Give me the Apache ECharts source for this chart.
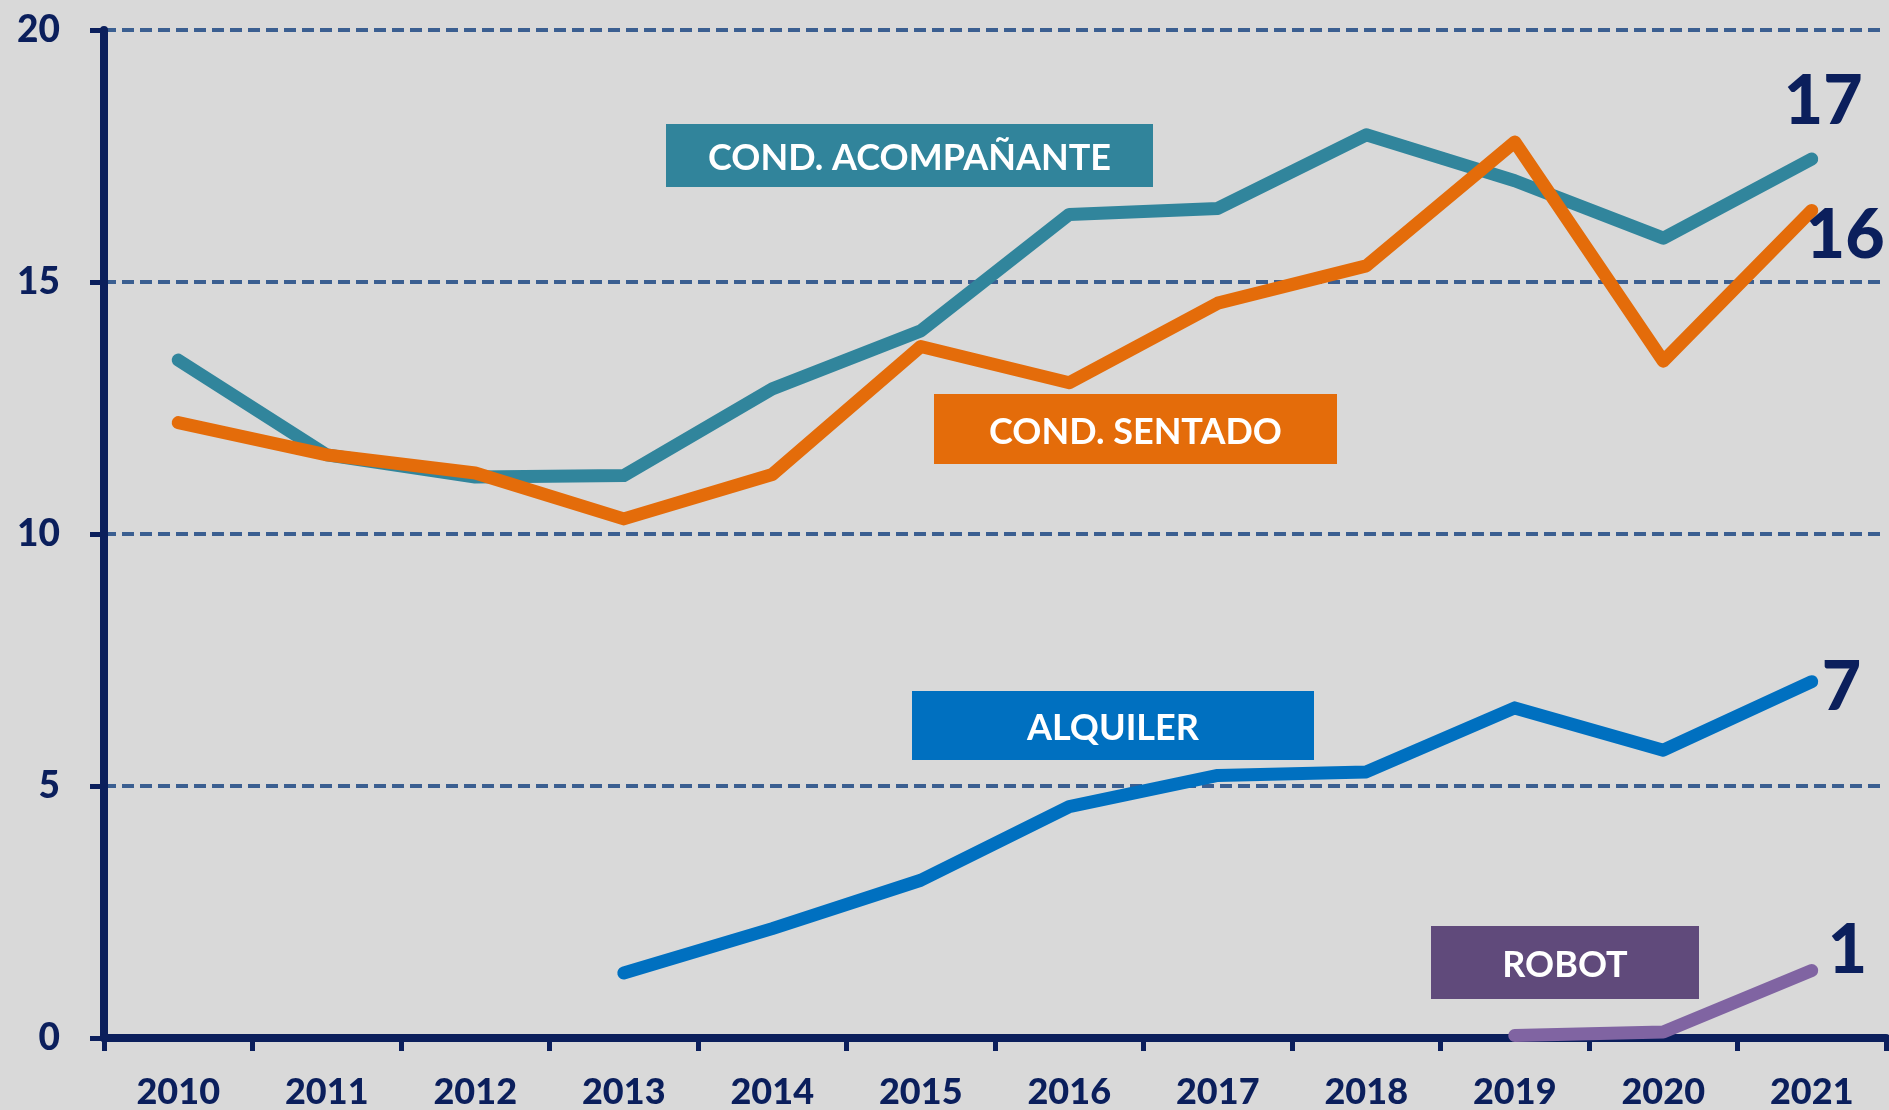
<!DOCTYPE html>
<html><head><meta charset="utf-8">
<script src="https://cdn.jsdelivr.net/npm/echarts@6/dist/echarts.min.js"></script>
<style>html,body{margin:0;padding:0;background:#D9D9D9;}#c{width:1889px;height:1110px;}</style>
</head><body><div id="c"></div>
<script>
var years = ['2010','2011','2012','2013','2014','2015','2016','2017','2018','2019','2020','2021'];
var condAcompanante = [13.45, 11.57, 11.13, 11.16, 12.88, 14.03, 16.34, 16.46, 17.92, 17.01, 15.87, 17.44];
var condSentado = [12.21, 11.57, 11.21, 10.30, 11.18, 13.72, 13.00, 14.58, 15.32, 17.78, 13.43, 16.42];
var alquiler = [null, null, null, 1.29, 2.17, 3.13, 4.59, 5.21, 5.28, 6.55, 5.71, 7.07];
var robot = [null, null, null, null, null, null, null, null, null, 0.05, 0.12, 1.34];
var yTicks = [0, 5, 10, 15, 20];

var FONT = 'Lato, "Open Sans", sans-serif';
var NAVY = '#0B1F5C';

function lineSeries(name, data, color, offset) {
  return {
    name: name, type: 'line', data: data, symbol: 'none', clip: false,
    lineStyle: { color: color, width: 13, cap: 'round', join: 'round' },
    endLabel: {
      show: true, formatter: function (p) { return Math.round(p.value); },
      color: NAVY, fontFamily: FONT, fontWeight: 900, fontSize: 68,
      distance: 0, offset: offset
    }
  };
}

function box(x, y, w, h, fill, text) {
  return {
    type: 'group', left: x, top: y,
    children: [
      { type: 'rect', shape: { x: 0, y: 0, width: w, height: h }, style: { fill: fill } },
      { type: 'text', x: w / 2, y: h / 2 + 3, style: { text: text, fill: '#fff', font: 'bold 36px ' + FONT, textAlign: 'center', textVerticalAlign: 'middle' } }
    ]
  };
}

var chart = echarts.init(document.getElementById('c'));
chart.setOption({
  backgroundColor: '#D9D9D9',
  animation: false,
  grid: { left: 104, right: 3, top: 30, bottom: 72, containLabel: false },
  xAxis: {
    type: 'category', data: years, boundaryGap: true,
    axisLine: { lineStyle: { color: NAVY, width: 8 } },
    axisTick: { show: true, length: 13, lineStyle: { color: NAVY, width: 5 } },
    axisLabel: { color: NAVY, fontFamily: FONT, fontWeight: 900, fontSize: 36, margin: 36 },
    splitLine: { show: false }
  },
  yAxis: {
    type: 'value', min: yTicks[0], max: yTicks[yTicks.length - 1], interval: 5,
    axisLine: { show: true, lineStyle: { color: NAVY, width: 8 } },
    axisTick: { show: true, length: 14, lineStyle: { color: NAVY, width: 5 } },
    axisLabel: { color: NAVY, fontFamily: FONT, fontWeight: 900, fontSize: 37, margin: 44 },
    splitLine: { show: true, lineStyle: { color: '#3B5F91', width: 4, type: [12, 6] } }
  },
  series: [
    lineSeries('COND. ACOMPAÑANTE', condAcompanante, '#31859C', [-28, -57]),
    lineSeries('COND. SENTADO', condSentado, '#E46C0A', [-6, 26]),
    lineSeries('ALQUILER', alquiler, '#0070C0', [10, 6]),
    lineSeries('ROBOT', robot, '#8064A2', [16, -19])
  ],
  graphic: [
    box(666, 124, 487, 63, '#31849B', 'COND. ACOMPAÑANTE'),
    box(934, 394, 403, 70, '#E46C0A', 'COND. SENTADO'),
    box(912, 691, 402, 69, '#0070C0', 'ALQUILER'),
    box(1431, 926, 268, 73, '#604A7B', 'ROBOT')
  ]
});
</script></body></html>
